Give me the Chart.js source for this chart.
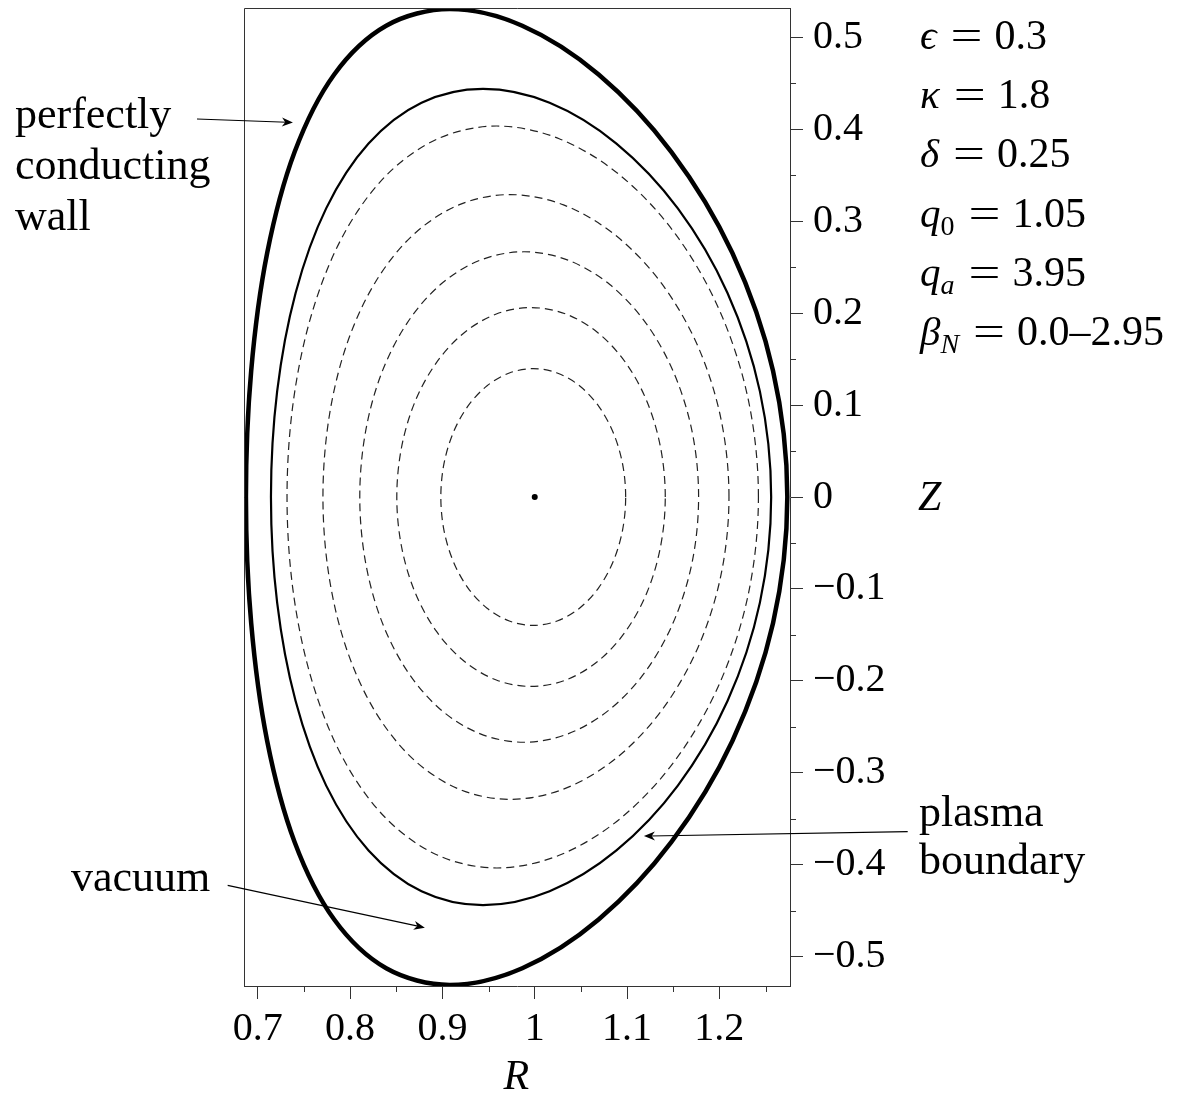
<!DOCTYPE html>
<html>
<head>
<meta charset="utf-8">
<script src="https://cdn.jsdelivr.net/npm/chart.js@4.4.0/dist/chart.umd.min.js"></script>
<style>
  html, body { margin: 0; padding: 0; background: #fff; }
  canvas { display: block; }
</style>
</head>
<body>
<canvas id="chart" width="1189" height="1095"></canvas>
<script>
// flux surfaces, theta = -15..375 in 15 degree steps;
// the first and last segments are hidden so each closed curve joins smoothly
const wallR = [1.2581, 1.2736, 1.2581, 1.2141, 1.1481, 1.0692, 0.9865, 0.9080, 0.8391, 0.7828, 0.7399, 0.7102, 0.6929, 0.6872,
               0.6929, 0.7102, 0.7399, 0.7828, 0.8391, 0.9080, 0.9865, 1.0692, 1.1481, 1.2141, 1.2581, 1.2736, 1.2581];
const wallZ = [-0.1374, 0, 0.1374, 0.2654, 0.3753, 0.4597, 0.5127, 0.5308, 0.5127, 0.4597, 0.3753, 0.2654, 0.1374, 0,
               -0.1374, -0.2654, -0.3753, -0.4597, -0.5127, -0.5308, -0.5127, -0.4597, -0.3753, -0.2654, -0.1374, 0, 0.1374];

const edgeR = [1.2439, 1.2561, 1.2439, 1.2088, 1.1550, 1.0885, 1.0161, 0.9440, 0.8774, 0.8200, 0.7741, 0.7410, 0.7210, 0.7143,
               0.7210, 0.7410, 0.7741, 0.8200, 0.8774, 0.9440, 1.0161, 1.0885, 1.1550, 1.2088, 1.2439, 1.2561, 1.2439];
const edgeZ = [-0.1149, 0, 0.1149, 0.2220, 0.3140, 0.3845, 0.4289, 0.4440, 0.4289, 0.3845, 0.3140, 0.2220, 0.1149, 0,
               -0.1149, -0.2220, -0.3140, -0.3845, -0.4289, -0.4440, -0.4289, -0.3845, -0.3140, -0.2220, -0.1149, 0, 0.1149];

const surf5R = [1.2316, 1.2423, 1.2316, 1.2007, 1.1529, 1.0931, 1.0265, 0.9589, 0.8951, 0.8388, 0.7929, 0.7592, 0.7386, 0.7317,
                0.7386, 0.7592, 0.7929, 0.8388, 0.8951, 0.9589, 1.0265, 1.0931, 1.1529, 1.2007, 1.2316, 1.2423, 1.2316];
const surf5Z = [-0.1045, 0, 0.1045, 0.2018, 0.2854, 0.3495, 0.3898, 0.4036, 0.3898, 0.3495, 0.2854, 0.2018, 0.1045, 0,
                -0.1045, -0.2018, -0.2854, -0.3495, -0.3898, -0.4036, -0.3898, -0.3495, -0.2854, -0.2018, -0.1045, 0, 0.1045];

const surf4R = [1.2017, 1.2104, 1.2017, 1.1765, 1.1372, 1.0873, 1.0312, 0.9734, 0.9178, 0.8680, 0.8267, 0.7959, 0.7770, 0.7706,
                0.7770, 0.7959, 0.8267, 0.8680, 0.9178, 0.9734, 1.0312, 1.0873, 1.1372, 1.1765, 1.2017, 1.2104, 1.2017];
const surf4Z = [-0.0851, 0, 0.0851, 0.1645, 0.2326, 0.2849, 0.3178, 0.3290, 0.3178, 0.2849, 0.2326, 0.1645, 0.0851, 0,
                -0.0851, -0.1645, -0.2326, -0.2849, -0.3178, -0.3290, -0.3178, -0.2849, -0.2326, -0.1645, -0.0851, 0, 0.0851];

const surf3R = [1.1709, 1.1775, 1.1709, 1.1514, 1.1208, 1.0813, 1.0360, 0.9881, 0.9411, 0.8979, 0.8614, 0.8336, 0.8164, 0.8105,
                0.8164, 0.8336, 0.8614, 0.8979, 0.9411, 0.9881, 1.0360, 1.0813, 1.1208, 1.1514, 1.1709, 1.1775, 1.1709];
const surf3Z = [-0.0690, 0, 0.0690, 0.1334, 0.1887, 0.2311, 0.2577, 0.2668, 0.2577, 0.2311, 0.1887, 0.1334, 0.0690, 0,
                -0.0690, -0.1334, -0.1887, -0.2311, -0.2577, -0.2668, -0.2577, -0.2311, -0.1887, -0.1334, -0.0690, 0, 0.0690];

const surf2R = [1.1364, 1.1414, 1.1364, 1.1219, 1.0988, 1.0687, 1.0336, 0.9960, 0.9584, 0.9233, 0.8932, 0.8701, 0.8556, 0.8506,
                0.8556, 0.8701, 0.8932, 0.9233, 0.9584, 0.9960, 1.0336, 1.0687, 1.0988, 1.1219, 1.1364, 1.1414, 1.1364];
const surf2Z = [-0.0533, 0, 0.0533, 0.1031, 0.1457, 0.1785, 0.1991, 0.2061, 0.1991, 0.1785, 0.1457, 0.1031, 0.0533, 0,
                -0.0533, -0.1031, -0.1457, -0.1785, -0.1991, -0.2061, -0.1991, -0.1785, -0.1457, -0.1031, -0.0533, 0, 0.0533];

const surf1R = [1.0951, 1.0985, 1.0951, 1.0851, 1.0692, 1.0485, 1.0243, 0.9984, 0.9725, 0.9484, 0.9276, 0.9117, 0.9017, 0.8983,
                0.9017, 0.9117, 0.9276, 0.9484, 0.9725, 0.9984, 1.0243, 1.0485, 1.0692, 1.0851, 1.0951, 1.0985, 1.0951];
const surf1Z = [-0.0362, 0, 0.0362, 0.0699, 0.0988, 0.1210, 0.1349, 0.1397, 0.1349, 0.1210, 0.0988, 0.0699, 0.0362, 0,
                -0.0362, -0.0699, -0.0988, -0.1210, -0.1349, -0.1397, -0.1349, -0.1210, -0.0988, -0.0699, -0.0362, 0, 0.0362];

const axisR = [1.0];
const axisZ = [0];

const rTicks = [0.7, 0.8, 0.9, 1, 1.1, 1.2];
const rMinor = [0.75, 0.85, 0.95, 1.05, 1.15, 1.25];
const zTicks = [-0.5, -0.4, -0.3, -0.2, -0.1, 0, 0.1, 0.2, 0.3, 0.4, 0.5];
const zMinor = [-0.45, -0.35, -0.25, -0.15, -0.05, 0.05, 0.15, 0.25, 0.35, 0.45];

const paramLines = [
  { sym: 'ϵ', sub: '', value: '0.3' },
  { sym: 'κ', sub: '', value: '1.8' },
  { sym: 'δ', sub: '', value: '0.25' },
  { sym: 'q', sub: '0', subItalic: false, value: '1.05' },
  { sym: 'q', sub: 'a', subItalic: true, value: '3.95' },
  { sym: 'β', sub: 'N', subItalic: true, value: '0.0–2.95' },
];

const SERIF = "'Liberation Serif', 'DejaVu Serif', serif";
const AXIS_COLOR = '#333';

function pts(rs, zs) {
  return rs.map((r, i) => ({ x: r, y: zs[i] }));
}

function fmt(v) {
  if (v === 0) return '0';
  return (v < 0 ? '\u2212' : '') + String(Math.abs(v));
}

// closed curve: hide the padding segment at each end
function loop(rs, zs, style) {
  const n = rs.length;
  return Object.assign({
    data: pts(rs, zs),
    showLine: true,
    pointRadius: 0,
    tension: 0.33,
    borderJoinStyle: 'round',
    segment: {
      borderColor: c => (c.p0DataIndex === 0 || c.p1DataIndex === n - 1) ? 'rgba(0,0,0,0)' : undefined,
    },
  }, style);
}

const dashed = { borderColor: '#222', borderWidth: 1.2, borderDash: [8, 5] };

function arrow(ctx, x0, y0, x1, y1) {
  const ang = Math.atan2(y1 - y0, x1 - x0);
  const L = 11, W = 4.5;
  ctx.beginPath();
  ctx.moveTo(x0, y0);
  ctx.lineTo(x1 - Math.cos(ang) * 6, y1 - Math.sin(ang) * 6);
  ctx.stroke();
  ctx.save();
  ctx.translate(x1, y1);
  ctx.rotate(ang);
  ctx.beginPath();
  ctx.moveTo(0, 0);
  ctx.lineTo(-L, -W);
  ctx.lineTo(-L * 0.7, 0);
  ctx.lineTo(-L, W);
  ctx.closePath();
  ctx.fill();
  ctx.restore();
}

const decor = {
  id: 'decor',
  afterDraw(chart) {
    const { ctx, chartArea: a, scales: { x, y } } = chart;
    ctx.save();

    // left and top edges of the frame
    ctx.strokeStyle = AXIS_COLOR;
    ctx.lineWidth = 1;
    ctx.beginPath();
    ctx.moveTo(Math.round(a.left) + 0.5, Math.round(a.bottom));
    ctx.lineTo(Math.round(a.left) + 0.5, Math.round(a.top) + 0.5);
    ctx.lineTo(Math.round(a.right), Math.round(a.top) + 0.5);
    ctx.stroke();

    // minor ticks
    ctx.beginPath();
    rMinor.forEach(v => {
      const px = Math.round(x.getPixelForValue(v)) + 0.5;
      ctx.moveTo(px, a.bottom);
      ctx.lineTo(px, a.bottom + 6);
    });
    zMinor.forEach(v => {
      const py = Math.round(y.getPixelForValue(v)) + 0.5;
      ctx.moveTo(a.right, py);
      ctx.lineTo(a.right + 6, py);
    });
    ctx.stroke();

    // annotation arrows
    ctx.strokeStyle = '#000';
    ctx.fillStyle = '#000';
    ctx.lineWidth = 1.1;
    arrow(ctx, x.getPixelForValue(0.6342), y.getPixelForValue(0.4112),
               x.getPixelForValue(0.7381), y.getPixelForValue(0.4075));
    arrow(ctx, x.getPixelForValue(0.6674), y.getPixelForValue(-0.4225),
               x.getPixelForValue(0.8810), y.getPixelForValue(-0.4685));
    arrow(ctx, x.getPixelForValue(1.4040), y.getPixelForValue(-0.3641),
               x.getPixelForValue(1.1183), y.getPixelForValue(-0.3689));

    // annotation text
    ctx.textBaseline = 'alphabetic';
    ctx.textAlign = 'left';
    ctx.font = '44px ' + SERIF;
    ctx.fillText('perfectly', 15, 128);
    ctx.fillText('conducting', 15, 179);
    ctx.fillText('wall', 15, 230);
    ctx.fillText('vacuum', 71, 891);
    ctx.fillText('plasma', 919, 826);
    ctx.fillText('boundary', 919, 874);

    // axis letters
    ctx.font = 'italic 42px ' + SERIF;
    ctx.fillText('Z', 918, 510);
    ctx.textAlign = 'center';
    ctx.fillText('R', x.getPixelForValue(0.98), 1089);
    ctx.textAlign = 'left';

    // parameter list
    paramLines.forEach((p, i) => {
      const base = 49 + i * 59.2;
      let px = 920;
      ctx.font = 'italic 41px ' + SERIF;
      ctx.fillText(p.sym, px, base);
      px += ctx.measureText(p.sym).width;
      if (p.sub) {
        ctx.font = (p.subItalic ? 'italic ' : '') + '28px ' + SERIF;
        ctx.fillText(p.sub, px, base + 8);
        px += ctx.measureText(p.sub).width;
      }
      px += 14;
      ctx.font = '42px ' + SERIF;
      ctx.save();
      ctx.translate(px, base);
      ctx.scale(1.35, 1);
      ctx.fillText('=', 0, 0);
      ctx.restore();
      px += ctx.measureText('=').width * 1.35 + 12;
      ctx.fillText(p.value, px, base);
    });

    ctx.restore();
  }
};

new Chart(document.getElementById('chart'), {
  type: 'scatter',
  data: {
    datasets: [
      loop(wallR, wallZ, { borderColor: '#000', borderWidth: 4.5 }),
      loop(edgeR, edgeZ, { borderColor: '#000', borderWidth: 2.2 }),
      loop(surf5R, surf5Z, dashed),
      loop(surf4R, surf4Z, dashed),
      loop(surf3R, surf3Z, dashed),
      loop(surf2R, surf2Z, dashed),
      loop(surf1R, surf1Z, dashed),
      { data: pts(axisR, axisZ), showLine: false, pointRadius: 3, backgroundColor: '#000', borderColor: '#000', borderWidth: 0 },
    ]
  },
  options: {
    responsive: false,
    animation: false,
    devicePixelRatio: 1,
    layout: { padding: { left: 244, top: 8, right: 0, bottom: 0 } },
    plugins: { legend: { display: false }, tooltip: { enabled: false } },
    scales: {
      x: {
        type: 'linear',
        position: 'bottom',
        min: 0.6851,
        max: 1.2765,
        afterBuildTicks: s => { s.ticks = rTicks.map(v => ({ value: v })); },
        afterFit: s => { s.height = 109; s.paddingLeft = 0; s.paddingRight = 0; },
        grid: { drawOnChartArea: false, drawTicks: true, tickLength: 13, color: AXIS_COLOR },
        border: { display: true, color: AXIS_COLOR, width: 1 },
        ticks: { autoSkip: false, maxRotation: 0, padding: 6, color: '#000', font: { family: SERIF, size: 40 }, callback: v => fmt(v) },
      },
      y: {
        type: 'linear',
        position: 'right',
        min: -0.532,
        max: 0.532,
        afterBuildTicks: s => { s.ticks = zTicks.map(v => ({ value: v })); },
        afterFit: s => { s.width = 399; s.paddingTop = 0; s.paddingBottom = 0; },
        grid: { drawOnChartArea: false, drawTicks: true, tickLength: 13, color: AXIS_COLOR },
        border: { display: true, color: AXIS_COLOR, width: 1 },
        ticks: { autoSkip: false, padding: 10, color: '#000', font: { family: SERIF, size: 40 }, callback: v => fmt(v) },
      }
    }
  },
  plugins: [decor]
});
</script>
</body>
</html>
